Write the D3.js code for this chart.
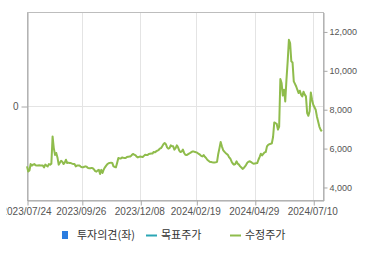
<!DOCTYPE html>
<html><head><meta charset="utf-8">
<script src="https://cdn.jsdelivr.net/npm/d3@7"></script>
<style>html,body{margin:0;padding:0;background:#fff;}svg{display:block;}</style>
</head><body>
<script>
// Adjusted close price (수정주가), one value per trading day
const prices = [
5060,4800,4850,5180,5100,5150,5180,5120,5110,5110,
5120,5100,5110,5100,5010,5150,5100,5060,5180,5150,
5200,6600,6000,5650,5750,5520,5150,5250,5350,5300,
5180,5250,5400,5230,5250,5230,5230,5200,5180,5180,
5060,5100,5110,5110,5050,5020,5010,5040,5060,5040,
4980,4960,4960,4980,4960,4900,4820,4790,4850,4880,
4670,4880,4720,4900,5010,5100,5180,5220,5240,5250,
5240,5060,5030,5010,5240,5490,5470,5460,5520,5500,
5490,5490,5540,5550,5570,5570,5640,5700,5660,5640,
5560,5520,5550,5570,5550,5540,5600,5660,5650,5640,
5700,5710,5720,5720,5800,5780,5830,5870,5900,5970,
6000,6090,6200,6260,6200,6040,5970,6000,6140,6100,
6090,5920,6000,6140,6040,5870,5800,5820,5920,5750,
5660,5640,5680,5720,5750,5790,5830,5820,5800,5780,
5750,5700,5660,5600,5570,5640,5550,5490,5400,5350,
5300,5290,5270,5260,5260,5270,5290,5700,6000,6310,
6090,5900,5820,5750,5700,5640,5520,5450,5300,5200,
5150,5180,5320,5200,5150,5060,5000,4930,4980,5060,
5150,5260,5300,5320,5280,5230,5200,5210,5220,5230,
5400,5550,5710,5620,5700,5780,5800,6090,6170,6200,
6220,6250,6570,7320,7280,7250,6950,7100,9550,9350,
8700,9000,8400,9520,10460,11570,11400,10460,10400,9430,
9300,9170,8990,8830,8950,8750,8660,8900,8750,8660,
7800,7660,7890,8860,8490,8230,8100,7970,7630,7370,
7110,6950,6860
];
const tickIndex = [0,45,93,139,187,235];
const tickLabels = ["2023/07/24","2023/09/26","2023/12/08","2024/02/19","2024/04/29","2024/07/10"];
const rightTicks = [4000,6000,8000,10000,12000];
const leftTicks = [0];
const legendLabels = ["투자의견(좌)","목표주가","수정주가"];
const legendColors = ["#2b7de0","#2ba6b5","#8fbc4c"];

const W=370,H=255, L=27, R=323, T=12, B=200;
const svg = d3.select("body").append("svg").attr("width",W).attr("height",H);

const x = d3.scaleLinear().domain([0,243]).range([L,R]);
const y = d3.scaleLinear().domain([3330,13000]).range([B,T]);
const yL = d3.scaleLinear().domain([-1,1]).range([B,T]);

// vertical grid
svg.append("g").selectAll("line").data(tickIndex.slice(1)).join("line")
  .attr("x1",d=>Math.round(x(d))+0.5).attr("x2",d=>Math.round(x(d))+0.5)
  .attr("y1",T).attr("y2",B).attr("stroke","#e4e4e4");
// horizontal grid at left 0
svg.append("line").attr("x1",L).attr("x2",R)
  .attr("y1",Math.round(yL(0))+0.5).attr("y2",Math.round(yL(0))+0.5).attr("stroke","#e4e4e4");

// frame
svg.append("rect").attr("x",L+0.5).attr("y",T+0.5).attr("width",R-L).attr("height",B-T)
  .attr("fill","none").attr("stroke","#bdbdbd");

const font = "'Liberation Sans', Arial, sans-serif";
// bottom axis (clipped at the left edge like the original)
svg.append("clipPath").attr("id","cl").append("rect").attr("x",6.5).attr("y",0).attr("width",W).attr("height",H);
const xAxis = d3.axisBottom(x).tickValues(tickIndex).tickFormat((d,i)=>tickLabels[i]).tickSize(5).tickSizeOuter(0);
const gx = svg.append("g").attr("clip-path","url(#cl)")
  .append("g").attr("transform",`translate(0.5,${B+0.5})`).call(xAxis);
gx.select(".domain").attr("stroke","#a8a8a8");
gx.selectAll(".tick line").attr("stroke","#a8a8a8");
gx.selectAll(".tick text").attr("font-family",font).attr("font-size","10px").attr("fill","#555")
  .attr("dy","0.9em").attr("y",5).attr("dx",-1.5);

// right axis
const yAxis = d3.axisRight(y).tickValues(rightTicks).tickFormat(d3.format(",")).tickSize(4).tickSizeOuter(0);
const gy = svg.append("g").attr("transform",`translate(${R+0.5},0.5)`).call(yAxis);
gy.select(".domain").attr("stroke","#a8a8a8");
gy.selectAll(".tick line").attr("stroke","#a8a8a8");
gy.selectAll(".tick text").attr("font-family",font).attr("font-size","9px").attr("fill","#555").attr("x",6);

// left axis
const yAxisL = d3.axisLeft(yL).tickValues(leftTicks).tickFormat(d3.format(",")).tickSize(6).tickSizeOuter(0);
const gl = svg.append("g").attr("transform",`translate(${L+0.5},0.5)`).call(yAxisL);
gl.select(".domain").attr("stroke","#a8a8a8");
gl.selectAll(".tick line").attr("stroke","#a8a8a8");
gl.selectAll(".tick text").attr("font-family",font).attr("font-size","10px").attr("fill","#555").attr("x",-9);

// price line
svg.append("path").datum(prices)
  .attr("d",d3.line().x((d,i)=>x(i)).y(d=>y(d)))
  .attr("fill","none").attr("stroke",legendColors[2]).attr("stroke-width",2).attr("stroke-linejoin","round");

// legend
const lg = svg.append("g").attr("font-family","'Noto Sans CJK KR', sans-serif").attr("font-size","11px").attr("fill","#333");
const lx = [62,146,230];
lg.append("rect").attr("x",lx[0]).attr("y",231).attr("width",6).attr("height",8).attr("fill",legendColors[0]);
lg.append("line").attr("x1",lx[1]).attr("x2",lx[1]+11).attr("y1",235.5).attr("y2",235.5).attr("stroke",legendColors[1]).attr("stroke-width",2);
lg.append("line").attr("x1",lx[2]).attr("x2",lx[2]+11).attr("y1",235.5).attr("y2",235.5).attr("stroke",legendColors[2]).attr("stroke-width",2);
lg.selectAll("text").data(legendLabels).join("text")
  .attr("x",(d,i)=>lx[i]+15).attr("y",239).text(d=>d);
</script>
</body></html>
